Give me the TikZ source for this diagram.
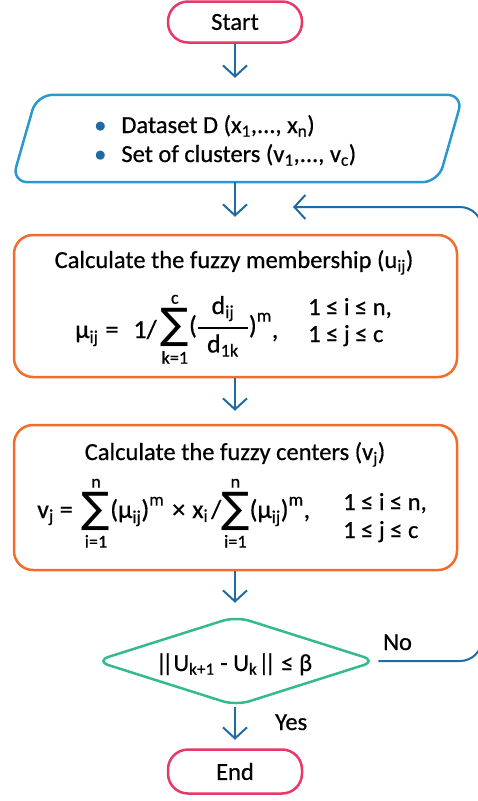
\documentclass[tikz,border=0pt]{standalone}
\usepackage{fontspec}
\usepackage{amsmath}
\setmainfont{Carlito}[FakeBold=0.6]
\newfontfamily\dejavu{DejaVu Sans}
\usetikzlibrary{arrows.meta,shapes.geometric,calc}
\definecolor{pinkc}{HTML}{E8386A}
\definecolor{arrowc}{HTML}{1F6BA3}
\definecolor{inputc}{HTML}{2A98CF}
\definecolor{orangec}{HTML}{F26C2C}
\definecolor{greenc}{HTML}{33BA8E}
\newcommand\tx[1]{\text{#1}}
\newcommand\bigsig{\mathop{\vcenter{\hbox{\dejavu\fontsize{42pt}{42pt}\selectfont ∑}}}\limits}
\begin{document}
\begin{tikzpicture}[x=1pt,y=-1pt,
  font=\fontsize{24.5pt}{29pt}\selectfont,
  terminal/.style={draw=pinkc, line width=2.5pt, rounded corners=20pt, minimum width=134pt, minimum height=41pt, inner sep=0pt},
  procbox/.style={draw=orangec, line width=2.5pt, rounded corners=19pt, minimum width=443pt, minimum height=142pt, inner sep=0pt},
  flow/.style={draw=arrowc, line width=2pt, -{Straight Barb[length=11pt,width=24pt]}},
  formula/.style={anchor=base west, inner sep=0pt, font=\fontsize{26pt}{30pt}\selectfont},
  cond/.style={anchor=base west, inner sep=0pt},
  lbl/.style={anchor=base west, inner sep=0pt}]
\useasboundingbox (0,0) rectangle (478,801);

% terminals
\node[terminal] (start) at (235,22) {Start};
\node[terminal, minimum height=44pt] (end) at (235,771.5) {End};

% input parallelogram
\node[minimum width=451pt, minimum height=87pt, inner sep=0pt] (input) at (237.5,138.5) {};
\draw[inputc, line width=2.5pt, rounded corners=16pt]
  ($(input.north west)+(25,0)$) -- (input.north east) -- ($(input.south east)+(-25,0)$) -- (input.south west) -- cycle;
\node[lbl] (in1) at (94,133) {\textcolor{arrowc}{•}\hspace{15pt}Dataset D (x\textsubscript{1},..., x\textsubscript{n})};
\node[lbl] (in2) at (94,162) {\textcolor{arrowc}{•}\hspace{15pt}Set of clusters (v\textsubscript{1},..., v\textsubscript{c})};

% process 1
\node[procbox] (calc1) at (235.5,306) {};
\node[anchor=base] (t1) at (234,268) {Calculate the fuzzy membership (u\textsubscript{ij})};
\node[formula] (f1) at (75,338) {$\displaystyle \tx{μ}_{\tx{ij}}\tx{\hspace{7pt}=\hspace{15pt}1/\hspace{4pt}}\raisebox{4pt}{$\displaystyle\bigsig_{\tx{k=1}}^{\tx{c}}\!\tx{(}\genfrac{}{}{1.9pt}{0}{\tx{d}_{\tx{ij}}}{\hspace{9pt}\tx{d}_{\tx{1k}}\hspace{9pt}}\tx{)}^{\tx{m}}$}\tx{,}$};
\node[cond] (c1a) at (308,315) {1 ≤ i ≤ n,};
\node[cond] (c1b) at (308,342) {1 ≤ j ≤ c};

% process 2
\node[procbox, minimum height=145pt] (calc2) at (235.5,497.5) {};
\node[anchor=base] (t2) at (235,460) {Calculate the fuzzy centers (v\textsubscript{j})};
\node[formula] (f2) at (37,518) {$\displaystyle \tx{v}_{\tx{j}}\tx{\hspace{6pt}=\hspace{5pt}}\bigsig_{\tx{i=1}}^{\tx{n}}\!\tx{(μ}_{\tx{ij}}\tx{)}^{\tx{m}}\tx{\hspace{8pt}×\hspace{7pt}}\tx{x}_{\tx{i}}\tx{\hspace{3pt}/}\!\bigsig_{\tx{i=1}}^{\tx{n}}\!\tx{(μ}_{\tx{ij}}\tx{)}^{\tx{m}}\tx{,}$};
\node[cond] (c2a) at (343,510) {1 ≤ i ≤ n,};
\node[cond] (c2b) at (343,538) {1 ≤ j ≤ c};

% decision
\node[diamond, draw=greenc, line width=2.5pt, minimum width=282pt, minimum height=90pt, inner sep=0pt, rounded corners=14pt] (dec) at (236,661) {};
\node[anchor=base] (dectxt) at (234,671) {|\kern-5pt|U\textsubscript{k+1} - U\textsubscript{k}\kern1pt|\kern-5pt| ≤ β};
\node[lbl] (no) at (383,650) {No};
\node[lbl] (yes) at (275,730) {Yes};

% connectors
\draw[flow, shorten >=17pt] (start.south) -- (start.south |- input.north);
\draw[flow, shorten >=17pt] (start.south |- input.south) -- (calc1.north -| start.south);
\draw[flow, shorten >=13pt] (calc1.south -| start.south) -- (calc2.north -| start.south);
\draw[flow, shorten >=12pt] (calc2.south -| start.south) -- (dec.north -| start.south);
\draw[flow, shorten >=8.5pt] (dec.south -| start.south) -- (end.north);
\coordinate (loopin) at (293,207);
\draw[flow, rounded corners=22pt] (dec.east) -- (482,661) -- (482,207) -- (loopin);
\end{tikzpicture}
\end{document}
